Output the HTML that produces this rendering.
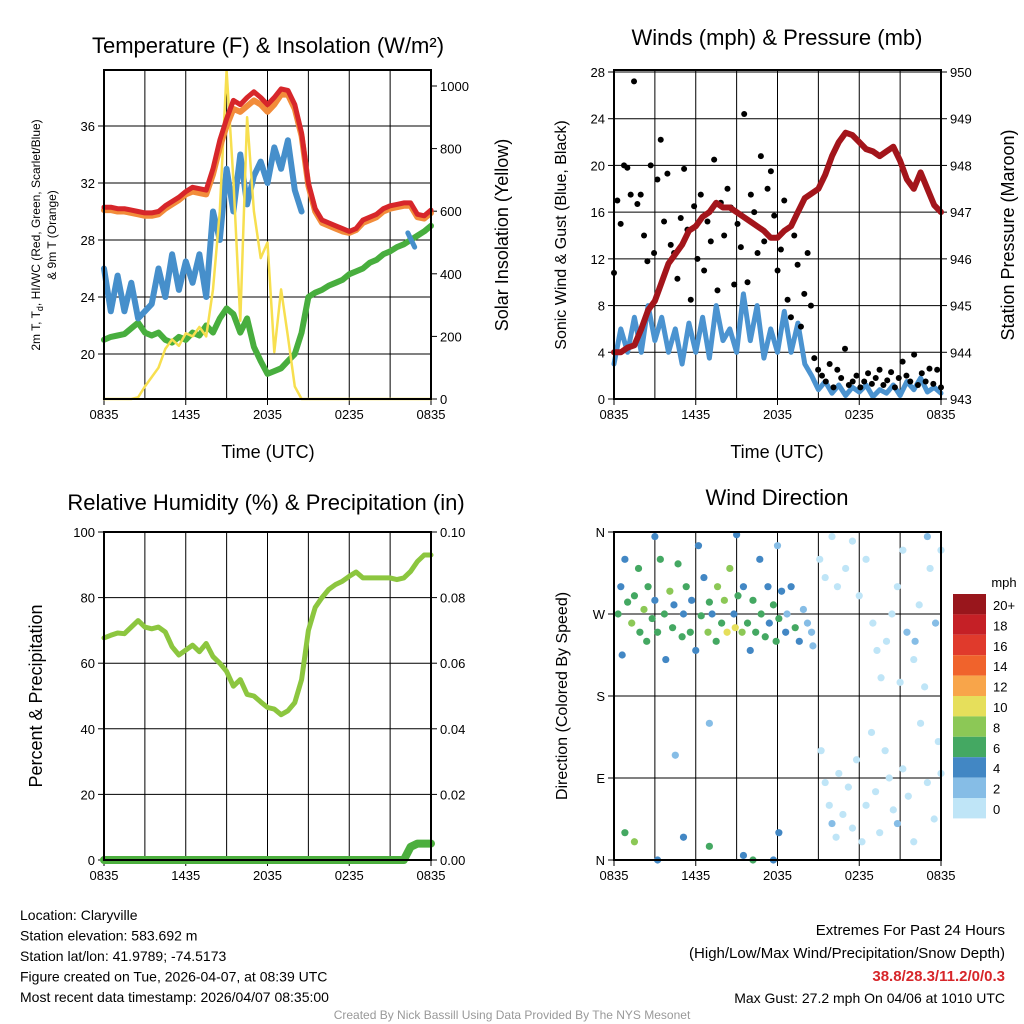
<!DOCTYPE html>
<html><head><meta charset="utf-8"><style>
body{margin:0;background:#fff;width:1024px;height:1024px;overflow:hidden;font-family:"Liberation Sans",sans-serif}
svg{display:block}
</style></head><body>
<svg id="chart" width="1024" height="1024" xmlns="http://www.w3.org/2000/svg" font-family="Liberation Sans, sans-serif"></svg>
<script>
// ---- data (t = hours since 0835 UTC, half-hour steps) ----
const timeLabels=["0835","1435","2035","0235","0835"];
const tempRed=[30.3,30.3,30.2,30.2,30.1,30,29.9,29.9,30,30.4,30.7,31,31.4,31.7,31.6,31.5,33,35,36.5,37.8,37.5,38,38.4,38,37.5,38,38.6,38.5,37.5,35.5,32,30.2,29.4,29.2,29,28.8,28.6,28.8,29.4,29.6,29.8,30.2,30.4,30.5,30.6,30.6,29.8,29.7,30.1];
const tempOrange=[30.1,30.1,30,30,29.9,29.8,29.7,29.7,29.8,30.2,30.5,30.8,31.2,31.4,31.3,31.2,32.6,34.5,36,37.2,37,37.4,37.8,37.5,37,37.5,38.2,38.2,37.2,35.3,31.8,30,29.2,29,28.8,28.6,28.5,28.7,29.2,29.4,29.6,30,30.2,30.3,30.4,30.4,29.6,29.5,29.9];
const tempBlue=[26,23,25.5,23,25,22.5,23,23.5,26,24,27,24.5,26.5,25,27,24,30,28,33,30,34,30.5,32.5,33.5,32,34.5,33,35,31.5,30];
const tempBlueLate=[28.5,27.5];
const dewGreen=[21,21.2,21.3,21.4,21.8,22.2,21.5,21.3,21.5,21,20.8,21.2,21,21.5,21.3,22,21.5,22.5,23.2,22.8,21.5,22.5,20.5,19.5,18.6,18.8,19,19.5,20,21.5,24,24.3,24.5,24.8,25,25.2,25.6,25.8,26,26.4,26.6,27,27.2,27.5,27.7,28,28.3,28.6,29];
const insolation=[0,0,0,0,0,5,40,70,100,160,190,170,210,200,230,200,350,600,1050,700,250,900,600,450,500,150,350,200,40,0,0,0,0,0,0,0,0,0,0,0,0,0,0,0,0,0,0,0,0];
const pressure=[944,944,944.1,944.15,944.5,944.9,945.1,945.5,945.9,946.1,946.3,946.6,946.7,946.9,947,947.2,947.1,947.1,947,946.9,946.8,946.7,946.6,946.45,946.45,946.6,946.7,947,947.3,947.4,947.5,947.8,948.2,948.5,948.7,948.65,948.5,948.35,948.3,948.2,948.3,948.4,948.1,947.7,947.5,947.85,947.5,947.15,947];
const windSpeed=[3,6,4,7,4,8,5,7,4,6,3,6.5,4,7,3.5,8,5,6,4,9,5,8,3.5,6,4,7.5,4,6.5,3,2,0.8,1.5,0.5,1.2,0.3,1,0.6,1.2,0.2,0.8,0.5,1.2,0.3,1.5,0.8,1.8,0.6,1,0.5];
const gustEarly=[10.8,17,15,20,19.8,17.5,27.2,16.7,17.5,14,11.8,20,12.5,18.8,22.2,15.2,19.3,13.2,12.5,10.3,15.5,19.7,14.5,8.5,16.5,12,17.5,11,15.2,13.5,20.5,9.3,16.8,14,18,16.4,9.8,15,13,24.4,10,17.5,16,12.5,20.8,13.5,18,19.5,15.7,11,12.8,17,8.5,7,14,11.5,6.2,9,12.5,8];
const gustLate=[3.5,2.5,2,1.5,3,1,2.5,1.8,4.3,1.2,1.5,2,1,1.5,2.2,1.3,1.8,2.5,1.2,1.6,2.3,1,1.8,3.2,2,1.5,3.8,1.2,2.2,1.5,2.6,1.3,2.5,1];
const rh=[67.7,68.5,69.2,69,71,73,71,70.5,71,69.5,65,62.5,64,65.5,63.5,66,62,60,57.5,53,55,50.5,50,48.2,46.5,46,44.3,45.5,48,55,70,77,80,82.5,84,85,86.5,87.8,86,86,86,86,86,85.5,86,88,91,93,93];
const precip=[0,0,0,0,0,0,0,0,0,0,0,0,0,0,0,0,0,0,0,0,0,0,0,0,0,0,0,0,0,0,0,0,0,0,0,0,0,0,0,0,0,0,0,0,0,0.004,0.005,0.005,0.005];
// wind direction points: [hour, degrees, mph]
const dirPts=[[0.3,270,6],[0.5,300,4],[0.6,225,4],[0.8,330,4],[1,283,6],[1.3,260,8],[1.5,290,6],[1.8,320,6],[1.9,250,6],[2.2,275,8],[2.4,240,6],[2.5,300,6],[2.8,265,7],[3,285,4],[3.2,250,6],[3.4,330,6],[3.7,270,6],[3.8,220,4],[4.1,295,8],[4.3,255,6],[4.4,280,4],[4.7,325,6],[5,245,6],[5.1,270,5],[5.3,300,6],[5.6,250,6],[5.7,285,4],[6,230,4],[6.2,345,4],[6.4,268,6],[6.6,310,4],[6.9,250,8],[7,283,6],[7.2,270,4],[7.5,240,6],[7.6,300,8],[7.9,260,6],[8.1,285,8],[8.3,250,10],[8.5,320,8],[8.8,270,4],[8.9,255,10],[9.1,290,6],[9.4,250,8],[9.5,300,4],[9.8,260,6],[10,230,5],[10.2,285,7],[10.4,250,6],[10.7,330,4],[10.8,270,6],[11.1,245,6],[11.3,300,4],[11.4,260,4],[11.7,280,6],[11.9,240,6],[12.1,265,6],[12.3,295,4],[12.6,250,4],[12.7,270,3],[13,300,4],[13.3,255,6],[13.6,240,4],[13.9,275,3],[14.2,260,3],[14.5,250,2],[14.6,235,2],[0.8,30,6],[1.5,20,8],[3.2,0,4],[5.1,25,4],[7,15,6],[9.5,5,4],[12.1,30,4],[10.2,0,6],[11.7,0,4],[4.5,115,2],[7,150,2],[12,345,2],[3,355,4],[9,357,4],
[15.2,120,0],[15.5,85,1],[15.8,60,0],[16,40,2],[16.3,25,0],[16.5,95,1],[16.8,50,0],[17.2,80,0],[17.5,35,1],[17.8,110,0],[18.2,20,0],[18.5,60,1],[18.9,140,0],[19.2,75,0],[19.5,30,1],[19.9,120,0],[20.2,90,1],[20.5,55,0],[20.8,40,3],[21.2,100,0],[21.6,70,1],[22,20,0],[22.5,150,0],[23,85,1],[23.5,45,0],[23.8,130,0],[24,95,1],[15.1,330,0],[15.5,310,0],[16,355,0],[16.4,300,1],[17,320,0],[17.5,350,0],[18,290,1],[18.5,330,0],[19,260,0],[19.3,230,0],[19.6,200,0],[20,240,0],[20.4,270,1],[20.8,300,0],[21.2,340,1],[21.5,250,3],[22,220,0],[22.4,280,0],[22.8,190,0],[23.2,320,0],[23.6,260,3],[24,340,0],[21,195,0],[22.1,240,3],[23,355,3]];
const cbLabels=["20+","18","16","14","12","10","8","6","4","2","0"];
const cbColors=["#99161c","#c52026","#e03a2c","#f0632c","#f8a54a","#e6df5b","#8cc856","#44a862","#4287c4","#86bde6","#bfe5f7"];

const NS="http://www.w3.org/2000/svg",svg=document.getElementById('chart');
function el(tag,attrs,parent,text){const e=document.createElementNS(NS,tag);for(const k in attrs)e.setAttribute(k,attrs[k]);if(text!==undefined)e.textContent=text;(parent||svg).appendChild(e);return e;}
function txt(x,y,s,size,name,opt){opt=opt||{};const t=el('text',{x:x,y:y,'font-size':size,'text-anchor':opt.anchor||'middle',fill:opt.fill||'#000','font-weight':opt.bold?'bold':'normal'},svg,s);if(opt.rot)t.setAttribute('transform','rotate('+opt.rot+' '+x+' '+y+')');return t;}
function panel(x0,x1,y0,y1){return{x:t=>x0+t*(x1-x0)/24,x0,x1,y0,y1};}
function lin(d0,d1,p0,p1){return v=>p0+(v-d0)*(p1-p0)/(d1-d0);}
function frame(P,name){
 for(let i=1;i<8;i++){const xx=P.x(i*3);const l=el('line',{x1:xx,x2:xx,y1:P.y0,y2:P.y1,stroke:'#000','stroke-width':1});}
 timeLabels.forEach((s,i)=>{const xx=P.x(i*6);el('line',{x1:xx,x2:xx,y1:P.y1,y2:P.y1+6,stroke:'#000'});txt(xx,P.y1+20,s,13,name+'-x-tick');});
}
function border(P,name){const r=el('rect',{x:P.x0,y:P.y0,width:P.x1-P.x0,height:P.y1-P.y0,fill:'none',stroke:'#000','stroke-width':2});}
function yTicks(P,ys,vals,labels,side,name,grid){vals.forEach((v,i)=>{const yy=ys(v);if(grid){const g=el('line',{x1:P.x0,x2:P.x1,y1:yy,y2:yy,stroke:'#000'});}
 const xx=side==='l'?P.x0:P.x1,d=side==='l'?-6:6;el('line',{x1:xx,x2:xx+d,y1:yy,y2:yy,stroke:'#000'});txt(xx+(side==='l'?-9:9),yy+5,labels[i],13,name+'-tick',{anchor:side==='l'?'end':'start'});});}
function line(P,ys,arr,color,w,name,step,start){step=step||0.5;start=start||0;let d='';arr.forEach((v,i)=>{d+=(d?'L':'M')+P.x(start+i*step).toFixed(1)+','+ys(v).toFixed(1);});const p=el('path',{d:d,fill:'none',stroke:color,'stroke-width':w,'stroke-linejoin':'round','stroke-linecap':'round'});}

// Panel 1
const P1=panel(104,431,70,399),yT=lin(20,36,354,126),yI=lin(0,1000,399,86);
frame(P1,'temp');
yTicks(P1,yT,[20,24,28,32,36],['20','24','28','32','36'],'l','temp-left',true);
yTicks(P1,yI,[0,200,400,600,800,1000],['0','200','400','600','800','1000'],'r','insolation-right',false);
line(P1,yT,dewGreen,'#48ae3e',6,'dewpoint-line');
line(P1,yT,tempBlue,'#468fcb',6,'wind-chill-line');
line(P1,yT,tempBlueLate,'#468fcb',5,'wind-chill-late',0.5,22.3);
line(P1,yI,insolation,'#f7df4f',2.5,'insolation-line');
line(P1,yT,tempOrange,'#f28c3a',6,'temp-9m-line');
line(P1,yT,tempRed,'#d7262a',5,'temp-2m-line');
border(P1,'temp');
txt(268,53,'Temperature (F) & Insolation (W/m²)',22,'temp-title');
txt(268,458,'Time (UTC)',18,'temp-x-title');
const tt=txt(40,235,'2m T, T',12,'temp-y-title',{rot:-90});
el('tspan',{'font-size':9,dy:3},tt,'d');el('tspan',{dy:-3},tt,', HI/WC (Red, Green, Scarlet/Blue)');
txt(56,235,'& 9m T (Orange)',12,'temp-y-title-2',{rot:-90});
txt(508,235,'Solar Insolation (Yellow)',18,'insolation-y-title',{rot:-90});

// Panel 2
const P2=panel(614,941,70,399),yW=lin(0,28,399,72),yP=lin(943,950,399,72);
frame(P2,'winds');
yTicks(P2,yW,[0,4,8,12,16,20,24,28],['0','4','8','12','16','20','24','28'],'l','wind-left',true);
yTicks(P2,yP,[943,944,945,946,947,948,949,950],['943','944','945','946','947','948','949','950'],'r','pressure-right',false);
line(P2,yW,windSpeed,'#4b93d0',5,'wind-speed-line');
gustEarly.forEach((g,i)=>{const c=el('circle',{cx:P2.x(i*0.245),cy:yW(g),r:3,fill:'#000'});});
gustLate.forEach((g,i)=>{const c=el('circle',{cx:P2.x(14.7+i*(9.3/33)),cy:yW(g),r:3,fill:'#000'});});
line(P2,yP,pressure,'#a3151b',6,'pressure-line');
border(P2,'winds');
txt(777,45,'Winds (mph) & Pressure (mb)',22,'winds-title');
txt(777,458,'Time (UTC)',18,'winds-x-title');
txt(566,235,'Sonic Wind & Gust (Blue, Black)',16,'winds-y-title',{rot:-90});
txt(1014,235,'Station Pressure (Maroon)',18,'pressure-y-title',{rot:-90});

// Panel 3
const P3=panel(104,431,532,860),yR=lin(0,100,860,532),yPr=lin(0,0.1,860,532);
frame(P3,'rh');
yTicks(P3,yR,[0,20,40,60,80,100],['0','20','40','60','80','100'],'l','rh-left',true);
yTicks(P3,yPr,[0,0.02,0.04,0.06,0.08,0.1],['0.00','0.02','0.04','0.06','0.08','0.10'],'r','precip-right',false);
line(P3,yR,rh,'#8cc63f',5,'rh-line');
line(P3,yPr,precip,'#4caf3e',8,'precip-line');
border(P3,'rh');
txt(266,510,'Relative Humidity (%) & Precipitation (in)',22,'rh-title');
txt(42,696,'Percent & Precipitation',18,'rh-y-title',{rot:-90});

// Panel 4
const P4=panel(614,941,532,860),yD=lin(360,0,532,860);
frame(P4,'direction');
yTicks(P4,yD,[360,270,180,90,0],['N','W','S','E','N'],'l','direction-left',true);
function spdColor(s){const idx=Math.min(10,Math.floor(s/2));return cbColors[10-idx];}
dirPts.forEach(p=>{const c=el('circle',{cx:P4.x(p[0]),cy:yD(p[1]),r:3.6,fill:spdColor(p[2])});});
border(P4,'direction');
txt(777,505,'Wind Direction',22,'direction-title');
txt(567,696,'Direction (Colored By Speed)',16,'direction-y-title',{rot:-90});
// colorbar
txt(1004,587,'mph',13,'colorbar-title');
cbColors.forEach((c,i)=>{const r=el('rect',{x:953,y:594+i*20.4,width:33,height:20.4,fill:c});});
cbLabels.forEach((s,i)=>txt(993,610+i*20.4,s,13,'colorbar-label',{anchor:'start'}));

// footer
const info=['Location: Claryville','Station elevation: 583.692 m','Station lat/lon: 41.9789; -74.5173','Figure created on Tue, 2026-04-07, at 08:39 UTC','Most recent data timestamp: 2026/04/07 08:35:00'];
info.forEach((s,i)=>txt(20,920+i*20.5,s,14,'station-info',{anchor:'start'}));
txt(1005,935,'Extremes For Past 24 Hours',15,'extremes-title',{anchor:'end'});
txt(1005,958,'(High/Low/Max Wind/Precipitation/Snow Depth)',15,'extremes-subtitle',{anchor:'end'});
txt(1005,981,'38.8/28.3/11.2/0/0.3',15,'extremes-values',{anchor:'end',fill:'#d7262a',bold:true});
txt(1005,1003,'Max Gust: 27.2 mph On 04/06 at 1010 UTC',14,'max-gust',{anchor:'end'});
txt(512,1019,'Created By Nick Bassill Using Data Provided By The NYS Mesonet',12,'credit',{fill:'#999'});
</script>
</body></html>
